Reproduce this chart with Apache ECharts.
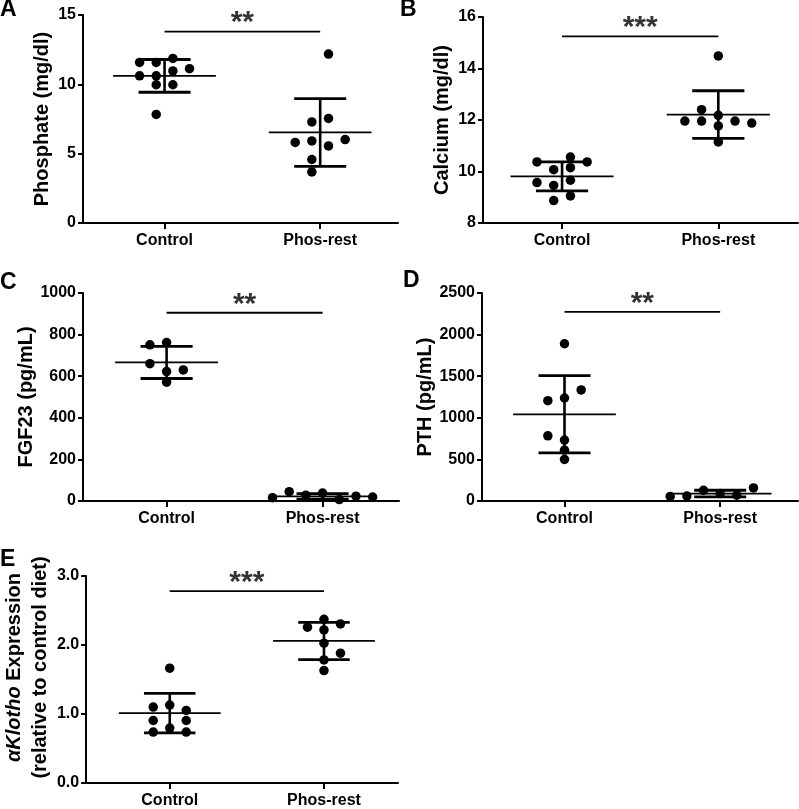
<!DOCTYPE html>
<html><head><meta charset="utf-8">
<script src="https://cdn.jsdelivr.net/npm/echarts@6/dist/echarts.min.js"></script>
<style>html,body{margin:0;padding:0;background:#fff}#c{width:799px;height:809px}</style>
</head><body><div id="c"></div>
<script>
// ---------------- data ----------------
const categories = ['Control', 'Phos-rest'];

// A: serum phosphate (mg/dl)
const phosphateControl  = [11.58, 11.87, 11.58, 10.97, 7.83, 11.13, 10.61, 10.61, 9.97, 9.97];
const phosphatePhosRest = [7.29, 12.18, 7.54, 5.92, 5.56, 5.81, 6.02, 4.58, 3.68];
const phosphateMean = [10.61, 6.53];
const phosphateSD   = [1.18, 2.44];
const phosphateTicks = [0, 5, 10, 15];

// B: serum calcium (mg/dl)
const calciumControl  = [10.07, 10.56, 10.15, 10.37, 10.37, 9.46, 9.66, 9.57, 8.87, 9.05];
const calciumPhosRest = [14.49, 12.18, 11.77, 11.15, 11.96, 11.96, 11.96, 11.88, 12.40];
const calciumMean = [9.81, 12.21];
const calciumSD   = [0.565, 0.925];
const calciumTicks = [8, 10, 12, 14, 16];

// C: FGF23 (pg/mL)
const fgf23Control  = [762, 622, 571, 751, 630, 660];
const fgf23PhosRest = [38, 28, 7, 45, 23, 16, 19];
const fgf23Mean = [666, 22];
const fgf23SD   = [77, 13];
const fgf23Ticks = [0, 200, 400, 600, 800, 1000];

// D: PTH (pg/mL)
const pthControl  = [1890, 1238, 1206, 1335, 732, 784, 611, 499];
const pthPhosRest = [90, 129, 70, 60, 157, 55];
const pthMean = [1042, 89];
const pthSD   = [464, 40];
const pthTicks = [0, 500, 1000, 1500, 2000, 2500];

// E: alpha-Klotho expression (relative to control diet)
const klothoControl  = [1.664, 1.129, 1.10, 1.051, 0.796, 0.906, 0.906, 0.738, 0.738];
const klothoPhosRest = [2.373, 2.219, 2.026, 1.784, 1.630, 2.258, 1.881, 2.305];
const klothoMean = [1.013, 2.059];
const klothoSD   = [0.287, 0.27];
const klothoTicks = [0, 1, 2, 3];

// significance bars
const sigBarY  = [13.8, 15.25, 905, 2272, 2.78];
const sigStars = ['**', '***', '**', '**', '***'];

// ---------------- layout / style ----------------
const FONT = '"Liberation Sans", Arial, Helvetica, sans-serif';
const SLOT = 0.107;       // horizontal spacing of scatter columns (x units)
const MEAN_HALF = 0.33;   // half width of mean line (x units)
const CAP_HALF = 0.167;   // half width of SD caps (x units)
const TOL = 0.041;        // collision tolerance (fraction of y range)

const panels = [
  {letter:'A', lpos:[0,-2], grid:{left:83, top:15, width:315, height:208}, xr:[0.476, 2.5],
   name:'Phosphate (mg/dl)', nameGap:31, ctrl:phosphateControl, phos:phosphatePhosRest,
   mean:phosphateMean, sd:phosphateSD, ticks:phosphateTicks, half:[true, true], dec:0},
  {letter:'B', lpos:[400,-2], grid:{left:483, top:17, width:315, height:206}, xr:[0.494, 2.51],
   name:'Calcium (mg/dl)', nameGap:31, ctrl:calciumControl, phos:calciumPhosRest,
   mean:calciumMean, sd:calciumSD, ticks:calciumTicks, half:[true, false], dec:0},
  {letter:'C', lpos:[0,271], grid:{left:83, top:293, width:316, height:208}, xr:[0.464, 2.49],
   name:'FGF23 (pg/mL)', nameGap:31, ctrl:fgf23Control, phos:fgf23PhosRest,
   mean:fgf23Mean, sd:fgf23SD, ticks:fgf23Ticks, half:[false, false], dec:0},
  {letter:'D', lpos:[403,269], grid:{left:482, top:293, width:316, height:208}, xr:[0.47, 2.5],
   name:'PTH (pg/mL)', nameGap:31, ctrl:pthControl, phos:pthPhosRest,
   mean:pthMean, sd:pthSD, ticks:pthTicks, half:[false, false], dec:0},
  {letter:'E', lpos:[0,548], grid:{left:83, top:576, width:315, height:207}, xr:[0.458, 2.48],
   name:'{it|\u03b1Klotho} Expression\n(relative to control diet)', nameGap:29, ctrl:klothoControl, phos:klothoPhosRest,
   mean:klothoMean, sd:klothoSD, ticks:klothoTicks, half:[false, false], dec:1, twoLine:true}
];

// column layout of dots (like a dot plot): each point goes to the nearest free column
function layoutSlots(values, half, tol) {
  const placed = [];
  let L = 0, R = 0;
  return values.map(v => {
    const mags = half ? [0.5, 1.5, 2.5, 3.5, 4.5] : [0, 1, 2, 3, 4, 5];
    for (const m of mags) {
      const cands = m === 0 ? [0] : (R < L ? [m, -m] : [-m, m]);
      for (const s of cands) {
        if (!placed.some(p => p.s === s && Math.abs(p.v - v) < tol)) {
          placed.push({s, v});
          if (s < 0) L++; else if (s > 0) R++;
          return s;
        }
      }
    }
    return 0;
  });
}

function renderMeanSD(params, api) {
  const x = api.value(0), m = api.value(1), s = api.value(2);
  const c = api.coord([x, m]), t = api.coord([x, m + s]), b = api.coord([x, m - s]);
  const u = api.size([1, 0])[0];
  const mh = MEAN_HALF * u, ch = CAP_HALF * u;
  const st = w => ({stroke:'#000', lineWidth:w, fill:null});
  return {type:'group', children:[
    {type:'line', shape:{x1:c[0]-mh, y1:c[1], x2:c[0]+mh, y2:c[1]}, style:st(1.8)},
    {type:'line', shape:{x1:t[0], y1:t[1], x2:b[0], y2:b[1]}, style:st(2.6)},
    {type:'line', shape:{x1:t[0]-ch, y1:t[1], x2:t[0]+ch, y2:t[1]}, style:st(2.8)},
    {type:'line', shape:{x1:b[0]-ch, y1:b[1], x2:b[0]+ch, y2:b[1]}, style:st(2.8)}
  ]};
}

const txt = (size, extra) => Object.assign({fontFamily:FONT, fontSize:size, fontWeight:'bold', color:'#000'}, extra || {});

const option = {animation:false, backgroundColor:'#fff', title:[], grid:[], xAxis:[], yAxis:[], series:[]};

panels.forEach((p, i) => {
  const ymin = p.ticks[0], ymax = p.ticks[p.ticks.length - 1];
  option.title.push({text:p.letter, left:p.lpos[0], top:p.lpos[1], padding:0, textStyle:txt(23)});
  option.grid.push(Object.assign({}, p.grid));
  option.xAxis.push({
    gridIndex:i, type:'value', min:p.xr[0], max:p.xr[1],
    axisLine:{onZero:false, lineStyle:{color:'#000', width:2}},
    axisTick:{customValues:[1, 2], length:6, lineStyle:{color:'#000', width:2}},
    axisLabel:Object.assign({customValues:[1, 2], margin:10, formatter:v => categories[Math.round(v) - 1] || ''}, txt(16)),
    splitLine:{show:false}
  });
  const nameStyle = txt(20, p.twoLine ? {lineHeight:26, padding:[0,0,0,24],
      rich:{it:txt(20, {fontStyle:'italic', lineHeight:26})}} : {});
  option.yAxis.push({
    gridIndex:i, type:'value', min:ymin, max:ymax, interval:p.ticks[1] - p.ticks[0],
    name:p.name, nameLocation:'middle', nameGap:p.nameGap, nameTextStyle:nameStyle,
    axisLine:{onZero:false, lineStyle:{color:'#000', width:2}},
    axisTick:{length:5, lineStyle:{color:'#000', width:2}},
    axisLabel:Object.assign({margin:7, formatter:v => v.toFixed(p.dec)}, txt(16)),
    splitLine:{show:false}
  });
  const tol = TOL * (ymax - ymin);
  const pts = [];
  [p.ctrl, p.phos].forEach((vals, g) => {
    const slots = layoutSlots(vals, p.half[g], tol);
    vals.forEach((v, k) => pts.push([g + 1 + slots[k] * SLOT, v]));
  });
  option.series.push({type:'scatter', xAxisIndex:i, yAxisIndex:i, data:pts, symbol:'circle', symbolSize:9.5,
    itemStyle:{color:'#000', opacity:1}, silent:true, z:2});
  option.series.push({type:'custom', xAxisIndex:i, yAxisIndex:i,
    data:[[1, p.mean[0], p.sd[0]], [2, p.mean[1], p.sd[1]]], renderItem:renderMeanSD, silent:true, z:3});
  option.series.push({type:'line', xAxisIndex:i, yAxisIndex:i, data:[[1, sigBarY[i]], [2, sigBarY[i]]],
    symbol:'none', lineStyle:{color:'#000', width:1.8}, silent:true, z:3});
  option.series.push({type:'scatter', xAxisIndex:i, yAxisIndex:i, data:[[1.5, sigBarY[i]]], symbol:'circle', symbolSize:1,
    itemStyle:{color:'rgba(255,255,255,0)'}, silent:true, z:4,
    label:Object.assign({show:true, position:'top', distance:-7, formatter:sigStars[i],
      textBorderWidth:0}, txt(30))});
});

const chart = echarts.init(document.getElementById('c'), null, {renderer:'canvas'});
chart.setOption(option);
</script>
</body></html>
